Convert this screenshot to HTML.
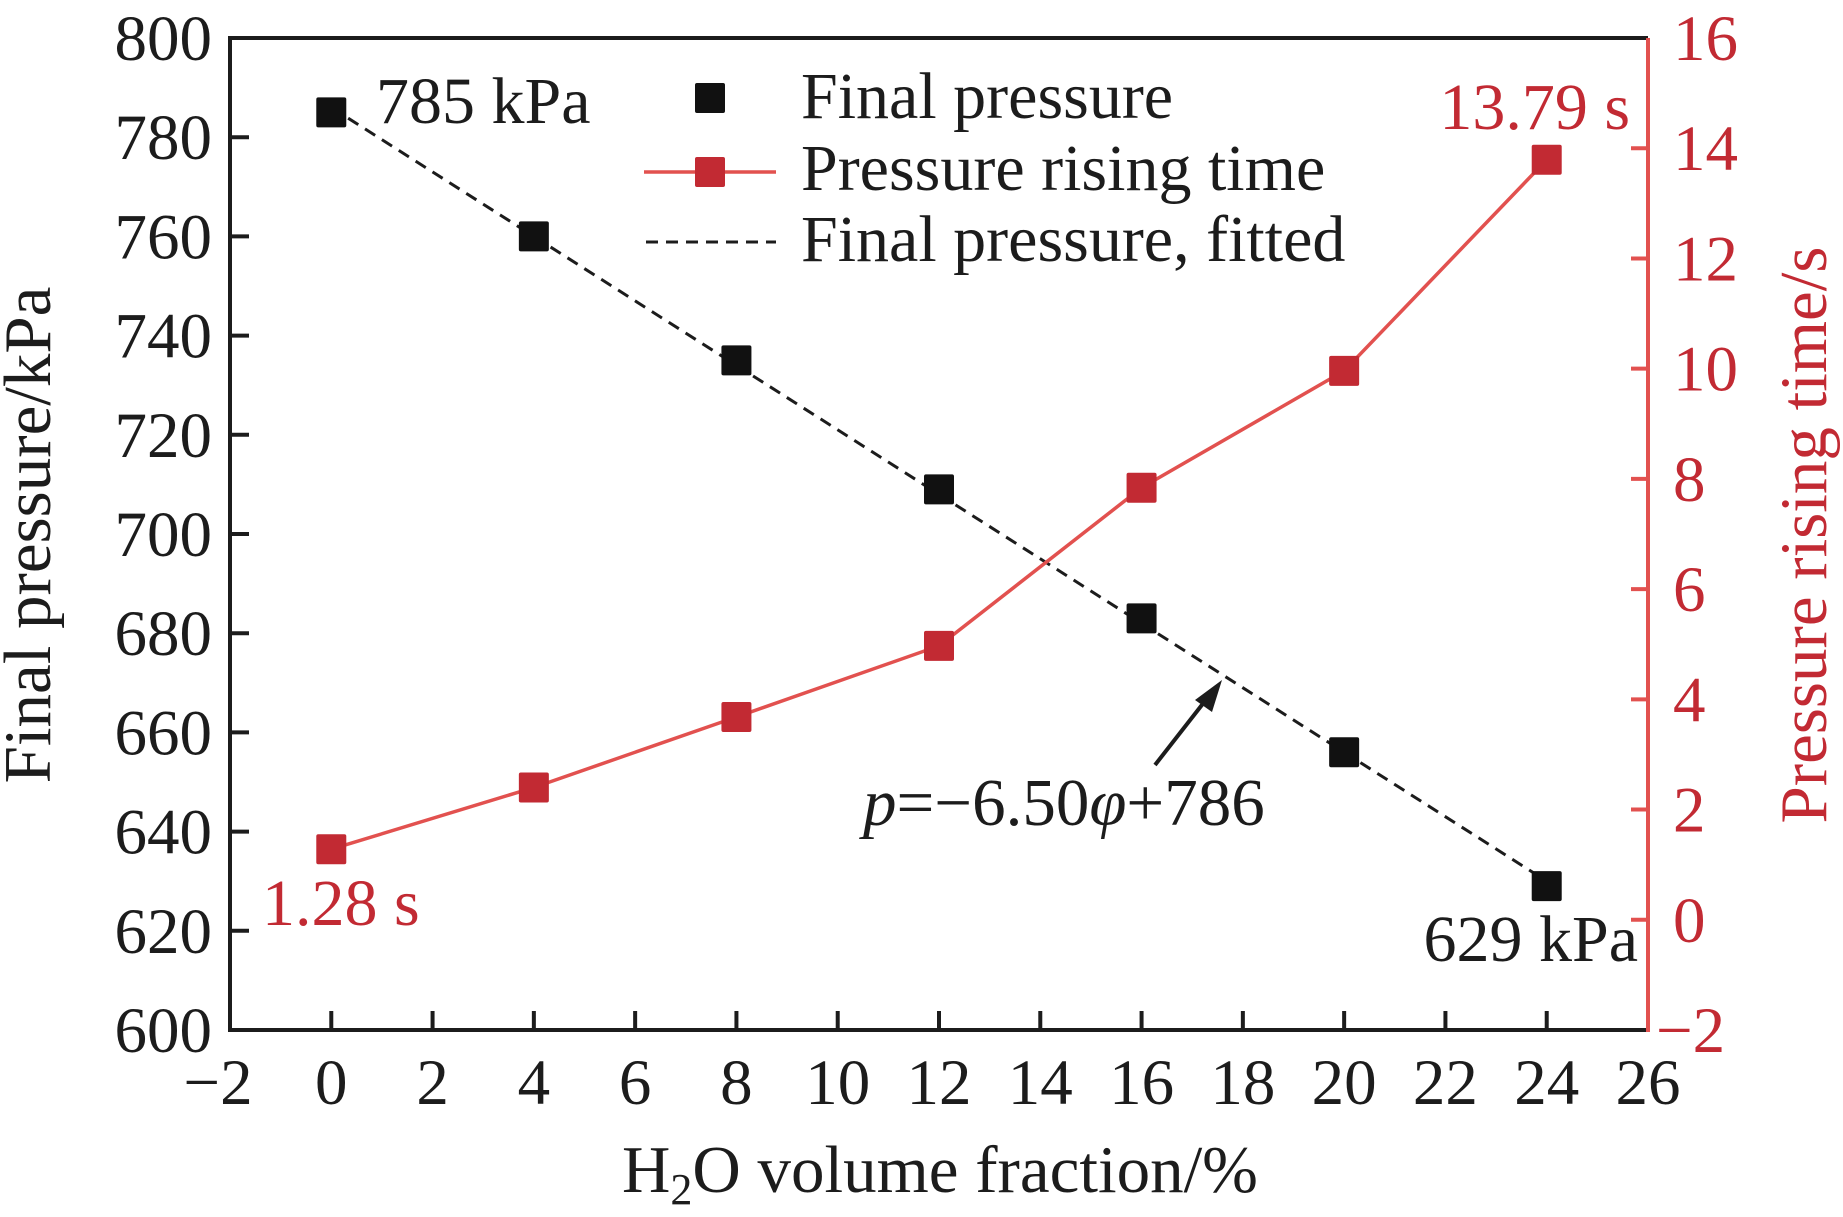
<!DOCTYPE html>
<html><head><meta charset="utf-8"><style>
html,body{margin:0;padding:0;background:#fff;}
svg{display:block;font-family:"Liberation Serif","DejaVu Serif",serif;}
</style></head><body>
<svg id="chart" width="1843" height="1217" viewBox="0 0 1843 1217"></svg>
<script>
const xTicks = [-2,0,2,4,6,8,10,12,14,16,18,20,22,24,26];
const yLeftTicks = [600,620,640,660,680,700,720,740,760,780,800];
const yRightTicks = [-2,0,2,4,6,8,10,12,14,16];
const fractions = [0,4,8,12,16,20,24];
const finalPressure = [785,760,735,709,683,656,629];
const risingTime = [1.28,2.4,3.68,4.97,7.84,9.96,13.79];
const fitSlope = -6.50;
const fitIntercept = 786;

const NS = "http://www.w3.org/2000/svg";
const svg = document.getElementById('chart');
const L=230,R=1648,T=38,B=1030;
const xS = v => L + (v - (-2)) / 28 * (R - L);
const yL = v => B - (v - 600) / 200 * (B - T);
const yR = v => B - (v - (-2)) / 18 * (B - T);
const BLACK="#1c1c1c", RED="#c22a33", REDL="#e2514f";
function mk(tag, attrs, parent){const e=document.createElementNS(NS,tag);for(const k in attrs)e.setAttribute(k,attrs[k]);(parent||svg).appendChild(e);return e;}
function txt(s, attrs){const e=mk('text',attrs);e.textContent=s;return e;}

let e;
e=mk('line',{x1:L,y1:T,x2:R,y2:T,stroke:BLACK,'stroke-width':4});


e=mk('line',{x1:L,y1:T-2,x2:L,y2:B+2,stroke:BLACK,'stroke-width':4});


e=mk('line',{x1:L-2,y1:B,x2:R,y2:B,stroke:BLACK,'stroke-width':4});


e=mk('line',{x1:R,y1:T,x2:R,y2:B+2,stroke:REDL,'stroke-width':4});



xTicks.forEach(v=>{
  const x=xS(v);
  if(v>-2&&v<26){const t=mk('line',{x1:x,y1:B,x2:x,y2:B-19,stroke:BLACK,'stroke-width':4});
  
  }
  const lb=txt((v<0?'\u2212':'')+Math.abs(v),{x:v<0?x-12:x,y:B+74,'font-size':65,'text-anchor':'middle',fill:BLACK});
  
  
});
yLeftTicks.forEach(v=>{
  const y=yL(v);
  if(v>600&&v<800){const t=mk('line',{x1:L,y1:y,x2:L+19,y2:y,stroke:BLACK,'stroke-width':4});
  
  }
  const lb=txt(String(v),{x:L-18,y:y+22,'font-size':65,'text-anchor':'end',fill:BLACK});
  
  
});
yRightTicks.forEach(v=>{
  const y=yR(v);
  if(v>-2&&v<16){const t=mk('line',{x1:R,y1:y,x2:R-17,y2:y,stroke:REDL,'stroke-width':4});
  
  }
  const lb=txt((v<0?'\u2212':'')+Math.abs(v),{x:v<0?R+8:R+25,y:y+22,'font-size':65,'text-anchor':'start',fill:RED});
  
  
});

e=txt('Final pressure/kPa',{x:0,y:0,'font-size':67,'text-anchor':'middle',fill:BLACK,transform:'translate(50,535) rotate(-90)'});


e=txt('Pressure rising time/s',{x:0,y:0,'font-size':67,'text-anchor':'middle',fill:RED,transform:'translate(1826,535) rotate(-90)'});


e=mk('text',{x:940,y:1192,'font-size':67,'text-anchor':'middle',fill:BLACK});
e.innerHTML='H<tspan font-size="44" dy="12">2</tspan><tspan dy="-12">O volume fraction/%</tspan>';



e=mk('line',{x1:xS(0),y1:yL(fitIntercept),x2:xS(24),y2:yL(fitIntercept+fitSlope*24),stroke:BLACK,'stroke-width':3,'stroke-dasharray':'12 8'});



e=mk('polyline',{points:fractions.map((f,i)=>xS(f)+','+yR(risingTime[i])).join(' '),fill:'none',stroke:REDL,'stroke-width':3.5});



const S=30;
fractions.forEach((f,i)=>{
  const a=mk('rect',{x:xS(f)-S/2,y:yL(finalPressure[i])-S/2,width:S,height:S,rx:2,fill:'#111'});
  
  
  const b=mk('rect',{x:xS(f)-S/2,y:yR(risingTime[i])-S/2,width:S,height:S,rx:2,fill:RED});
  
  
});

e=txt('785 kPa',{x:376,y:123,'font-size':66,fill:BLACK});


e=txt('629 kPa',{x:1638,y:961,'font-size':66,'text-anchor':'end',fill:BLACK});


e=txt('13.79 s',{x:1630,y:129,'font-size':66,'text-anchor':'end',fill:RED});


e=txt('1.28 s',{x:262,y:925,'font-size':66,fill:RED});


e=mk('text',{x:863,y:825,'font-size':67,fill:BLACK});
e.innerHTML='<tspan font-style="italic">p</tspan>=\u22126.50<tspan font-style="italic">\u03c6</tspan>+786';


e=mk('line',{x1:1155,y1:765,x2:1205,y2:701,stroke:BLACK,'stroke-width':4});


e=mk('polygon',{points:'1222,680 1195,700 1212,712',fill:BLACK});



e=mk('rect',{x:695,y:83,width:30,height:30,rx:2,fill:'#111'});


e=txt('Final pressure',{x:801,y:118,'font-size':66,fill:BLACK});


e=mk('line',{x1:644,y1:172,x2:776,y2:172,stroke:REDL,'stroke-width':3.5});


e=mk('rect',{x:695,y:157,width:30,height:30,rx:2,fill:RED});


e=txt('Pressure rising time',{x:801,y:190,'font-size':66,fill:BLACK});


e=mk('line',{x1:646,y1:242,x2:776,y2:242,stroke:BLACK,'stroke-width':3,'stroke-dasharray':'12 8'});


e=txt('Final pressure, fitted',{x:801,y:261,'font-size':66,fill:BLACK});


</script>
</body></html>
